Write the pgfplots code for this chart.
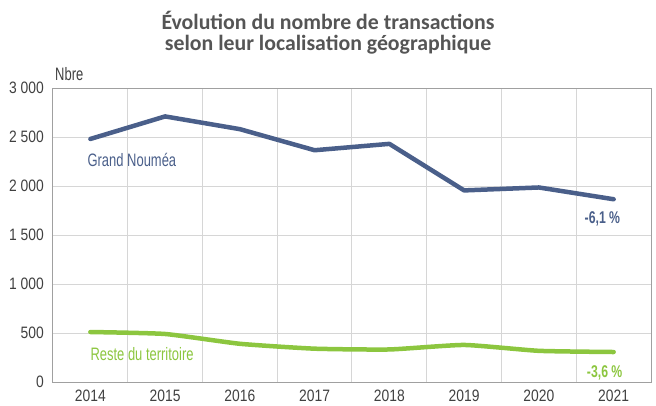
\documentclass[border=0pt]{standalone}
\usepackage{fontspec}
\setmainfont{Liberation Sans}[FakeStretch=0.84]
\newfontfamily\lblfont{Liberation Sans}[FakeStretch=0.72]
\newfontfamily\titlefont{Carlito}
\usepackage{pgfplots}
\pgfplotsset{compat=1.18}
\definecolor{bleu}{HTML}{4A5F8A}
\definecolor{vert}{HTML}{8CC63F}
\definecolor{grille}{HTML}{D6D6D6}
\definecolor{txt}{HTML}{404040}
\definecolor{titre}{HTML}{555555}
\begin{document}
\begin{tikzpicture}
\begin{axis}[
  scale only axis,
  width=598pt, height=294pt,
  at={(0,0)}, anchor=south west,
  xmin=2013.5, xmax=2021.5,
  ymin=0, ymax=3000,
  xtick={2014,...,2021},
  minor xtick={2014.5,2015.5,...,2020.5},
  ytick={0,500,...,3000},
  xminorgrids=true, ymajorgrids=true,
  grid style={grille, line width=1pt},
  minor grid style={grille, line width=1pt},
  axis line style={draw=grille!75!black, line width=1pt},
  major tick length=0pt, minor tick length=0pt,
  tick label style={font=\fontsize{16.5}{18}\selectfont, text=txt, inner sep=0pt},
  /pgf/number format/assume math mode=true,
  xticklabel style={/pgf/number format/1000 sep={}, anchor=base, yshift=-19.5pt},
  yticklabel style={/pgf/number format/1000 sep={\ }, anchor=east, xshift=-9pt},
  clip=false,
]
\addplot[bleu, line width=4.5pt, line join=round, line cap=round] coordinates {
(2014,2480) (2015,2710) (2016,2580) (2017,2365) (2018,2430) (2019,1955) (2020,1985) (2021,1865)};
\addplot[vert, line width=4.5pt, line join=round, line cap=round, smooth, tension=0.3] coordinates {
(2014,510) (2015,490) (2016,390) (2017,340) (2018,332) (2019,378) (2020,318) (2021,306)};
\node[anchor=base west, text=bleu, font=\lblfont\fontsize{18}{20}\selectfont, inner sep=0pt] at (axis cs:2013.96,2204) {Grand Nouméa};
\node[anchor=base west, text=vert, font=\lblfont\fontsize{18}{20}\selectfont, inner sep=0pt] at (axis cs:2014,224) {Reste du territoire};
\node[anchor=base, text=bleu, font=\lblfont\bfseries\fontsize{17}{20}\selectfont, inner sep=0pt] at (axis cs:2020.85,1622) {-6,1 \%};
\node[anchor=base, text=vert, font=\lblfont\bfseries\fontsize{17}{20}\selectfont, inner sep=0pt] at (axis cs:2020.88,51) {-3,6 \%};
\end{axis}
\node[anchor=base west, inner sep=0pt, text=txt, font=\lblfont\fontsize{18}{20}\selectfont] at (2pt,301pt) {Nbre};
\node[anchor=base, text=titre, font=\titlefont\bfseries\fontsize{21.8}{24}\selectfont, inner sep=0pt] at (275pt,352pt) {Évolution du nombre de transactions};
\node[anchor=base, text=titre, font=\titlefont\bfseries\fontsize{21.8}{24}\selectfont, inner sep=0pt] at (275pt,331pt) {selon leur localisation géographique};
\pgfresetboundingbox
\useasboundingbox (-53pt,-23pt) rectangle (603pt,382pt);
\end{tikzpicture}
\end{document}
